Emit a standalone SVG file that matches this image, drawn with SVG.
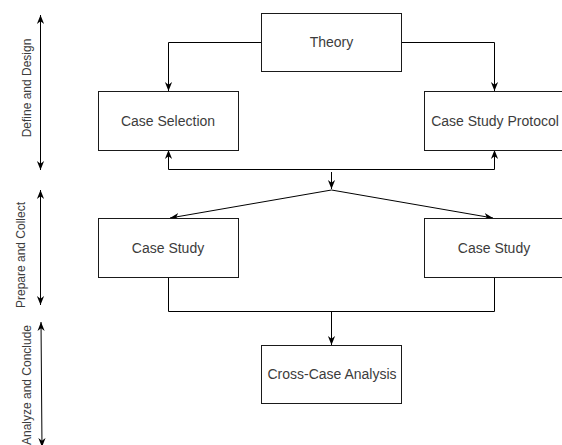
<svg xmlns="http://www.w3.org/2000/svg" width="562" height="445" viewBox="0 0 562 445">
<style>
.box{fill:#fff;stroke:#1a1a1a;stroke-width:1}
.lbl{font-family:"Liberation Sans",Arial,sans-serif;font-size:14px;fill:#3c3c3c;text-anchor:middle}
.side{font-family:"Liberation Sans",Arial,sans-serif;font-size:12px;fill:#3c3c3c;text-anchor:middle}
.c{fill:none;stroke:#000;stroke-width:1}
</style>
<defs>
<marker id="arr" viewBox="0 0 10 10" refX="10" refY="5" markerWidth="9" markerHeight="9" orient="auto-start-reverse" markerUnits="userSpaceOnUse">
<path d="M0,1 L10,5 L0,9 L3,5 z" fill="#000"/>
</marker>
</defs>
<rect width="562" height="445" fill="#fff"/>
<g id="connectors">
<path class="c" d="M261.5,42.5 H168.5 V91" marker-end="url(#arr)"/>
<path class="c" d="M401.5,42.5 H494.5 V91" marker-end="url(#arr)"/>
<path class="c" d="M168.5,150 V169.5 H494.5 V150" marker-start="url(#arr)" marker-end="url(#arr)"/>
<path class="c" d="M331.5,172 V189" marker-end="url(#arr)"/>
<path class="c" d="M331.5,190 L170,218" marker-end="url(#arr)"/>
<path class="c" d="M331.5,190 L493,218" marker-end="url(#arr)"/>
<path class="c" d="M168.5,277.5 V311.5 H494.5 V277.5"/>
<path class="c" d="M331.5,311.5 V345" marker-end="url(#arr)"/>
<path class="c" d="M40.5,15 V170" marker-start="url(#arr)" marker-end="url(#arr)"/>
<path class="c" d="M40.5,190 V305" marker-start="url(#arr)" marker-end="url(#arr)"/>
<path class="c" d="M41,322 L42,447" marker-start="url(#arr)" marker-end="url(#arr)"/>
</g>
<g id="theory"><rect class="box" x="261.5" y="13.5" width="140" height="58"/><text class="lbl" x="331.5" y="47">Theory</text></g>
<g id="case-selection"><rect class="box" x="98.5" y="91.5" width="140" height="59"/><text class="lbl" x="168" y="125.5">Case Selection</text></g>
<g id="case-study-protocol"><rect class="box" x="424.5" y="91.5" width="140" height="59"/><text class="lbl" x="495" y="125.5">Case Study Protocol</text></g>
<g id="case-study-1"><rect class="box" x="98.5" y="218.5" width="140" height="59"/><text class="lbl" x="168" y="252.5">Case Study</text></g>
<g id="case-study-2"><rect class="box" x="424.5" y="218.5" width="140" height="59"/><text class="lbl" x="494" y="252.5">Case Study</text></g>
<g id="cross-case"><rect class="box" x="261.5" y="345.5" width="140" height="58"/><text class="lbl" x="332" y="379">Cross-Case Analysis</text></g>
<g id="label-define"><text class="side" transform="translate(31,88) rotate(-90)">Define and Design</text></g>
<g id="label-prepare"><text class="side" transform="translate(25,255) rotate(-90)">Prepare and Collect</text></g>
<g id="label-analyze"><text class="side" transform="translate(31,385) rotate(-90)">Analyze and Conclude</text></g>
</svg>
